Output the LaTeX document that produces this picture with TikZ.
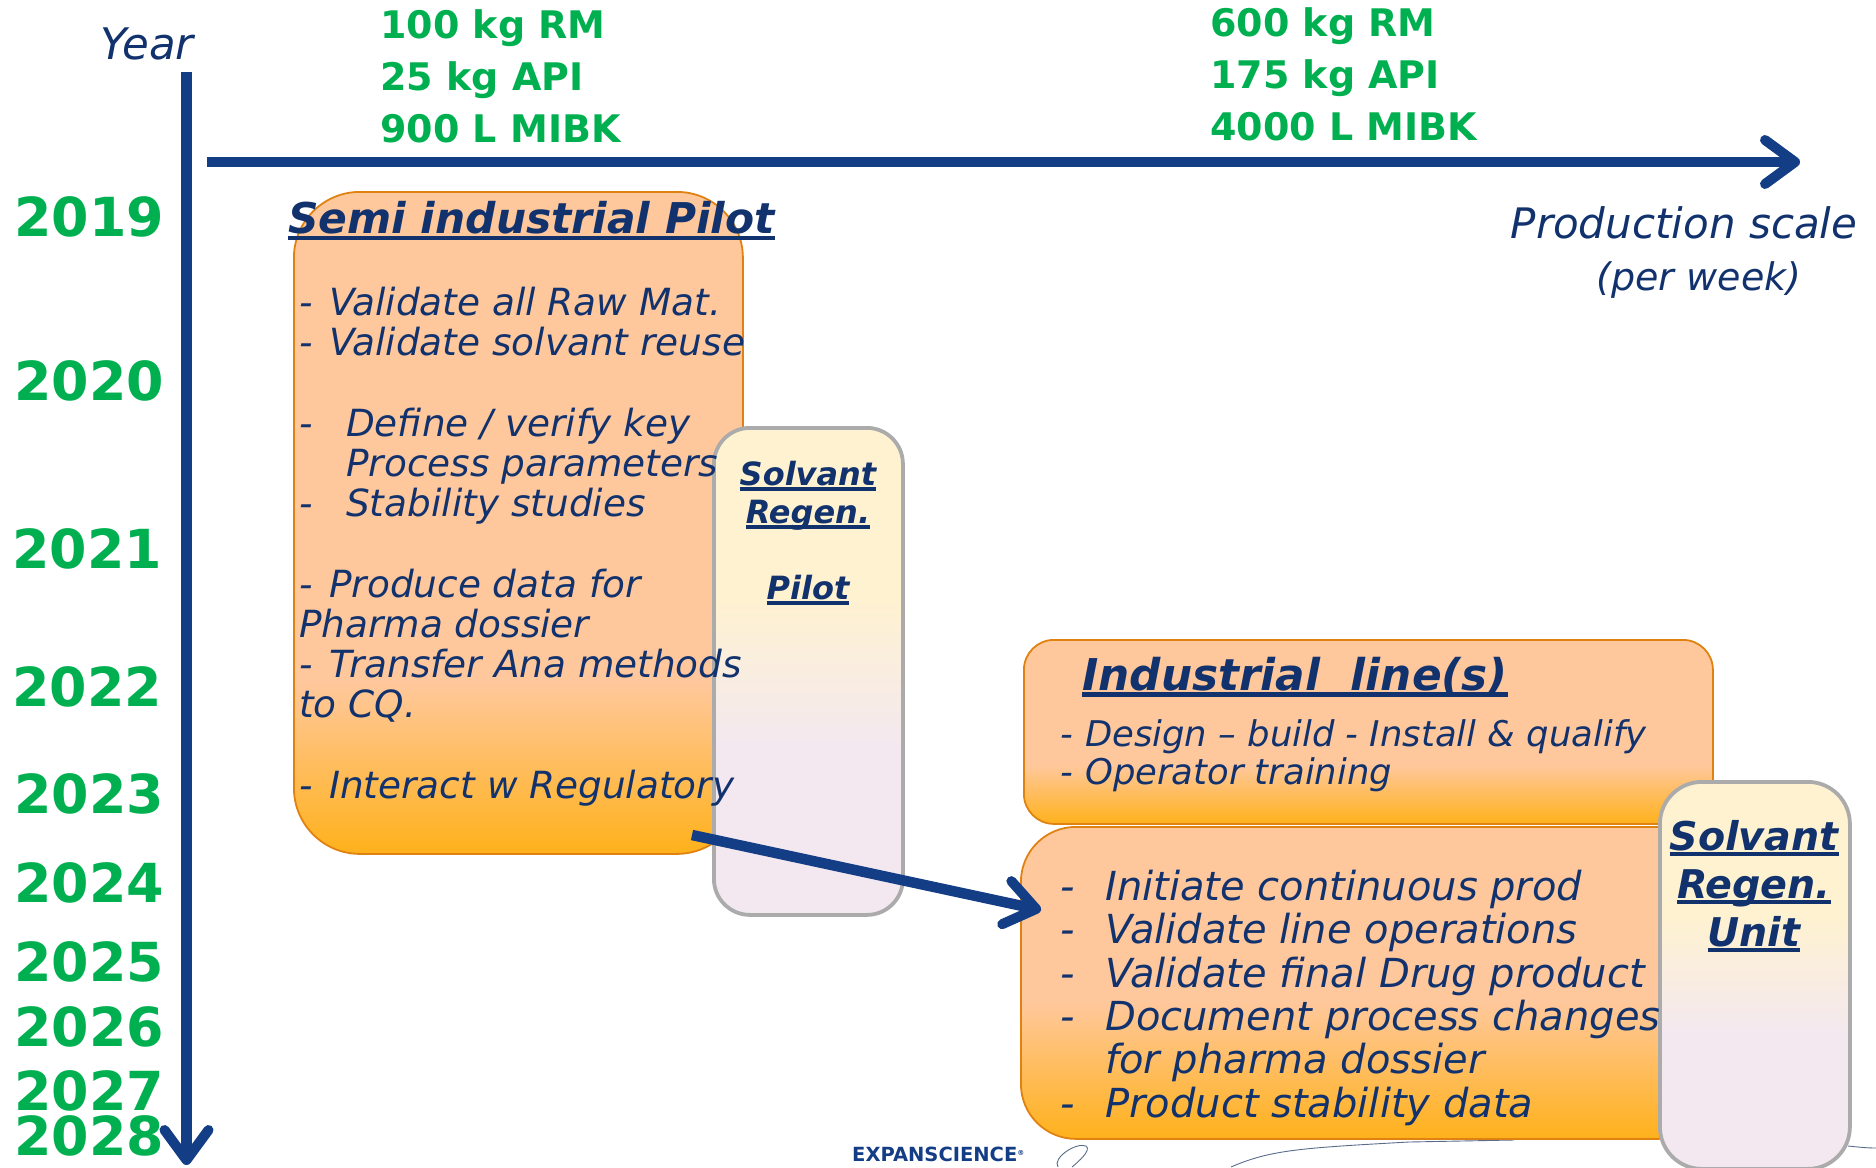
\documentclass[tikz,border=0pt]{standalone}
\usepackage{fontspec}
\setmainfont{DejaVu Sans}
\usetikzlibrary{arrows.meta}
\definecolor{navy}{HTML}{12326E}
\definecolor{axisblue}{HTML}{133D85}
\definecolor{yrgreen}{HTML}{00B050}
\definecolor{peach}{HTML}{FFC89C}
\definecolor{amber}{HTML}{FFB11B}
\definecolor{edgeor}{HTML}{E08212}
\definecolor{cream}{HTML}{FFF2D0}
\definecolor{lilac}{HTML}{F3E8F0}
\definecolor{swirl}{HTML}{5A6C8C}
\pgfdeclareverticalshading{semishade}{100bp}{color(0bp)=(amber);color(25bp)=(amber);color(38bp)=(peach);color(100bp)=(peach)}
\pgfdeclareverticalshading{indshade}{100bp}{color(0bp)=(amber);color(25bp)=(amber);color(41bp)=(peach);color(100bp)=(peach)}
\pgfdeclareverticalshading{lowshade}{100bp}{color(0bp)=(amber);color(25bp)=(amber);color(47bp)=(peach);color(100bp)=(peach)}
\pgfdeclareverticalshading{solvshade}{100bp}{color(0bp)=(lilac);color(42bp)=(lilac);color(58bp)=(cream);color(100bp)=(cream)}
\newcommand{\ulin}[3]{\leavevmode\setbox0=\hbox{#3}\rlap{\vrule width\wd0 height\dimexpr-#1+#2\relax depth #1}\box0 }
\newcommand{\dashgap}[1]{\makebox[#1][l]{-}}
\tikzset{
  x=1pt,y=-1pt,
  axisline/.style={draw=axisblue,line width=10.5pt,-{Straight Barb[length=30pt,width=44pt,line width=10pt,round]}},
  orangebox/.style={draw=edgeor,line width=1.8pt,rectangle,inner sep=0pt,anchor=north west},
  solvbox/.style={draw=black!33,line width=3.8pt,rectangle,inner sep=0pt,anchor=north west,shading=solvshade},
  yearlabel/.style={anchor=west,inner sep=0pt,text=yrgreen,font=\fontsize{53.8}{54}\selectfont\bfseries},
  scalelabel/.style={anchor=north west,inner sep=0pt,align=left,text=yrgreen,font=\fontsize{38}{52}\selectfont\bfseries},
  bodytext/.style={anchor=north west,inner sep=0pt,align=left,text=navy},
  titletext/.style={anchor=west,inner sep=0pt,text=navy},
  plainital/.style={anchor=center,inner sep=0pt,text=navy},
}
\begin{document}
\begin{tikzpicture}
\useasboundingbox (0,0) rectangle (1876,1167);
% swirls and logo
\draw[swirl,line width=0.9pt] (1231,1167) .. controls (1270,1150) and (1300,1148) .. (1409,1142) -- (1514,1140);
\draw[swirl,line width=0.9pt] (1848,1146) .. controls (1858,1147) and (1866,1148) .. (1876,1148);
\draw[swirl,line width=0.9pt] (1058,1167) .. controls (1052,1158) and (1076,1142) .. (1086,1146) .. controls (1092,1150) and (1078,1162) .. (1072,1167);
\node[anchor=west,inner sep=0pt,text=axisblue,font=\fontsize{19.5}{20}\selectfont\bfseries] (logo) at (852,1154) {EXPANSCIENCE\raisebox{6pt}{\fontsize{7}{7}\selectfont ®}};
% boxes
\node[orangebox,shading=lowshade,minimum width=692pt,minimum height=312pt,rounded corners=55pt] (low) at (1020,826) {};
\node[orangebox,shading=indshade,minimum width=689pt,minimum height=184pt,rounded corners=30pt] (ind) at (1023,639) {};
\node[orangebox,shading=semishade,minimum width=449pt,minimum height=662pt,rounded corners=66pt] (semi) at (293,191) {};
\node[solvbox,minimum width=189pt,minimum height=487pt,rounded corners=36pt] (pilot) at (712,426) {};
\node[solvbox,minimum width=190pt,minimum height=387pt,rounded corners=42pt] (unit) at (1658,780) {};
% axes
\coordinate (yaxisA) at (186.5,72);
\coordinate (yaxisB) at (186.5,1165);
\coordinate (xaxisA) at (207,162);
\coordinate (xaxisB) at (1800,162);
\draw[axisline] (yaxisA) -- (yaxisB);
\draw[axisline] (xaxisA) -- (xaxisB);
% axis labels
\node[plainital,font=\fontsize{43.5}{44}\selectfont\itshape] (year) at (147,44) {Year};
\node[plainital,font=\fontsize{42}{42}\selectfont\itshape] (prod) at (1684,223) {Production scale};
\node[plainital,font=\fontsize{38}{38}\selectfont\itshape] (perweek) at (1699,280) {(per week)};
% years
\node[yearlabel] (y19) at (14,217) {2019};
\node[yearlabel] (y20) at (14,381) {2020};
\node[yearlabel] (y21) at (12,549) {2021};
\node[yearlabel] (y22) at (12,687) {2022};
\node[yearlabel] (y23) at (14,794) {2023};
\node[yearlabel] (y24) at (14,883) {2024};
\node[yearlabel] (y25) at (14,962) {2025};
\node[yearlabel] (y26) at (14,1027) {2026};
\node[yearlabel] (y27) at (14,1091) {2027};
\node[yearlabel] (y28) at (14,1136) {2028};
% scale labels
\node[scalelabel] (scaleA) at (380,9) {100 kg RM\\25 kg API\\900 L MIBK};
\node[scalelabel] (scaleB) at (1210,7) {600 kg RM\\175 kg API\\4000 L MIBK};
% titles
\node[titletext,font=\fontsize{42.4}{43}\selectfont\bfseries\itshape] (semititle) at (288,221) {\ulin{6.5pt}{4.5pt}{Semi industrial Pilot}};
\node[titletext,font=\fontsize{43.8}{44}\selectfont\bfseries\itshape] (indtitle) at (1082,677) {\ulin{6.5pt}{4.5pt}{Industrial\ \ line(s)}};
% body text
\node[bodytext,font=\fontsize{37.4}{40.2}\selectfont\itshape] (semibody) at (299,287) {\dashgap{30pt}Validate all Raw Mat.\\\dashgap{30pt}Validate solvant reuse\\[40.2pt]\dashgap{47pt}Define / verify key\\\hspace*{47pt}Process parameters\\\dashgap{47pt}Stability studies\\[40.2pt]\dashgap{30pt}Produce data for\\Pharma dossier\\\dashgap{30pt}Transfer Ana methods\\to CQ.\\[40.2pt]\dashgap{30pt}Interact w Regulatory};
\node[bodytext,font=\fontsize{35.4}{38}\selectfont\itshape] (indbody) at (1060,719) {\dashgap{25pt}Design -- build - Install \& qualify\\\dashgap{25pt}Operator training};
\node[bodytext,font=\fontsize{40}{43.3}\selectfont\itshape] (lowbody) at (1060,870) {\dashgap{45pt}Initiate continuous prod\\\dashgap{45pt}Validate line operations\\\dashgap{45pt}Validate final Drug product\\\dashgap{45pt}Document process changes\\\hspace*{45pt}for pharma dossier\\\dashgap{45pt}Product stability data};
% solvant labels
\node[plainital,align=center,font=\fontsize{32}{38}\selectfont\bfseries\itshape,anchor=north] (pilottext) at (808,461) {\ulin{5pt}{3.5pt}{Solvant}\\\ulin{5pt}{3.5pt}{Regen.}\\[38pt]\ulin{5pt}{3.5pt}{Pilot}};
\node[plainital,align=center,font=\fontsize{39.6}{48}\selectfont\bfseries\itshape,anchor=north] (unittext) at (1754,820) {\ulin{6pt}{4pt}{Solvant}\\\ulin{6pt}{4pt}{Regen.}\\\ulin{6pt}{4pt}{Unit}};
% transfer arrow
\coordinate (transA) at (692,835);
\coordinate (transB) at (1041,910);
\draw[axisline] (transA) -- (transB);
\end{tikzpicture}
\end{document}
